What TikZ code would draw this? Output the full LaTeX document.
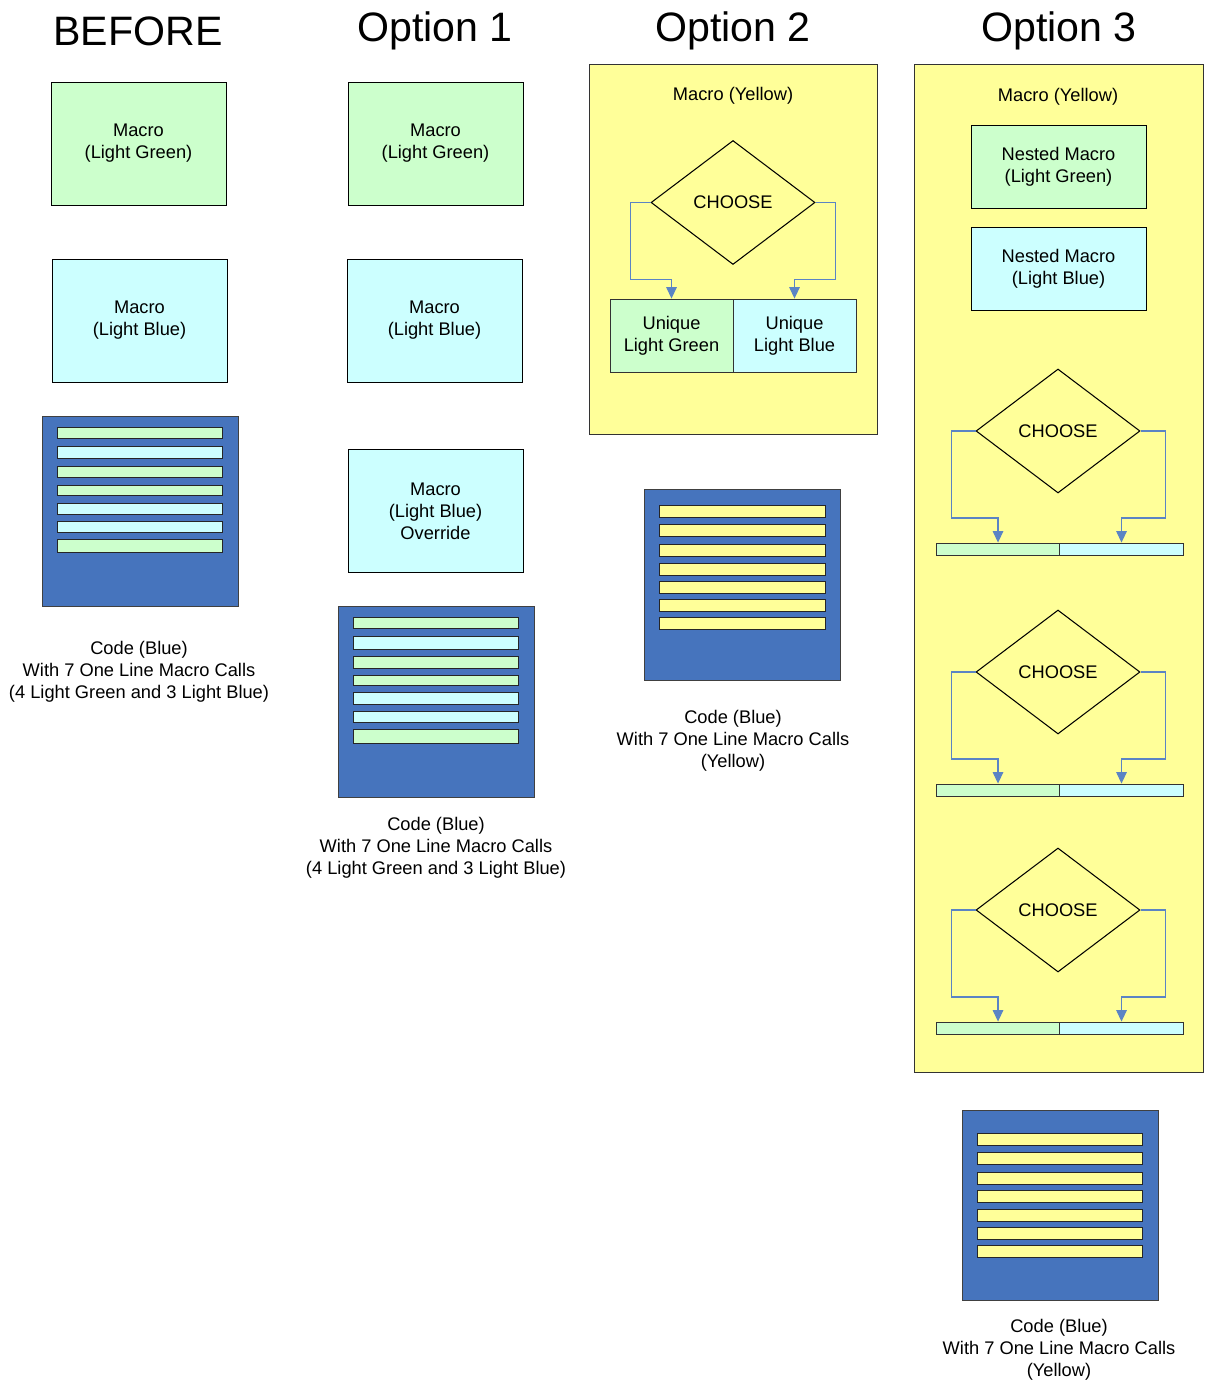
\documentclass[tikz,border=0pt]{standalone}
\usepackage{fontspec}
\setmainfont{Liberation Sans}
\usetikzlibrary{shapes.geometric,arrows.meta}
\definecolor{lgreen}{HTML}{CCFFCC}
\definecolor{lblue}{HTML}{CCFFFF}
\definecolor{myyellow}{HTML}{FFFF99}
\definecolor{codeblue}{HTML}{4674BD}
\definecolor{arrowblue}{HTML}{5B84C4}

\begin{document}
\begin{tikzpicture}[x=0.02cm,y=-0.02cm,
    txt/.style={font=\fontsize{10.4}{12.5}\selectfont, align=center},
    caption/.style={txt, yshift=-1.1pt},
    head/.style={font=\fontsize{23.4}{27}\selectfont, yshift=-1.7pt},
    macro/.style={txt, draw=black, line width=0.5pt, inner sep=0pt, minimum width=3.5cm, minimum height=2.46cm},
    nested/.style={macro, minimum height=1.66cm},
    unique/.style={txt, draw=black!80, line width=0.5pt, inner sep=0pt, minimum width=2.46cm, minimum height=1.46cm},
    bar/.style={draw=black!80, line width=0.5pt, inner sep=0pt, minimum width=2.48cm, minimum height=0.24cm},
    choose/.style={txt, diamond, draw=black, fill=myyellow, line width=0.6pt, inner sep=0pt, aspect=1.32, minimum width=3.28cm, minimum height=2.48cm},
    panel/.style={draw=black!80, fill=myyellow, line width=0.5pt},
    code/.style={draw=black!75, fill=codeblue, line width=0.5pt},
    stripe/.style={draw=black!85, line width=0.5pt},
    arr/.style={draw=arrowblue, line width=0.6pt, -{Triangle[width=6pt,length=6.5pt]}}]

    \useasboundingbox (0,0) rectangle (1208,1381);

    % Headings
    \node[head] (h0) at (138,28) {BEFORE};
    \node[head] (h1) at (435,28) {Option 1};
    \node[head] (h2) at (733,28) {Option 2};
    \node[head] (h3) at (1059,28) {Option 3};

    % Before
    \node[macro, fill=lgreen] (bgreen) at (138.5,143.5) {Macro\\(Light Green)};
    \node[macro, fill=lblue] (bblue) at (139.5,320.5) {Macro\\(Light Blue)};
    \draw[code] (42,416) rectangle (238,606);
    \foreach \t/\h/\c in {11/11/lgreen, 30/12/lblue, 50/11/lgreen, 69/10/lgreen, 87/11/lblue, 105/11/lblue, 123/13/lgreen}
        \draw[stripe, fill=\c] (57,416+\t) rectangle ++(165,\h);
    \node[caption] (bcode) at (139,670) {Code (Blue)\\With 7 One Line Macro Calls\\(4 Light Green and 3 Light Blue)};

    % Option 1
    \node[macro, fill=lgreen] (agreen) at (435.5,143.5) {Macro\\(Light Green)};
    \node[macro, fill=lblue] (ablue) at (434.5,320.5) {Macro\\(Light Blue)};
    \node[macro, fill=lblue] (aover) at (435.5,511) {Macro\\(Light Blue)\\Override};
    \draw[code] (338,606) rectangle (534,797);
    \foreach \t/\h/\c in {11/11/lgreen, 30/13/lblue, 50/12/lgreen, 69/10/lgreen, 86/12/lblue, 105/11/lblue, 123/14/lgreen}
        \draw[stripe, fill=\c] (353,606+\t) rectangle ++(165,\h);
    \node[caption] (acode) at (436,846) {Code (Blue)\\With 7 One Line Macro Calls\\(4 Light Green and 3 Light Blue)};

    % Option 2
    \draw[panel] (589,64) rectangle (877,434);
    \node[caption] (ytitle) at (733,94) {Macro (Yellow)};
    \node[choose] (ch) at (733,202.5) {CHOOSE};
    \node[unique, fill=lgreen] (ugreen) at (671.5,335.5) {Unique\\Light Green};
    \node[unique, fill=lblue] (ublue) at (794.5,335.5) {Unique\\Light Blue};
    \draw[arr] (ch.west) -- ++(-20,0) -- ++(0,77) -| (ugreen.north);
    \draw[arr] (ch.east) -- ++(20,0) -- ++(0,77) -| (ublue.north);
    \draw[code] (644,489) rectangle (840,680);
    \foreach \t in {16,35,55,74,92,110,128}
        \draw[stripe, fill=myyellow] (659,489+\t) rectangle ++(166,12);
    \node[caption] (ycode) at (733,739) {Code (Blue)\\With 7 One Line Macro Calls\\(Yellow)};

    % Option 3
    \draw[panel] (914,64) rectangle (1203,1072);
    \node[caption] (ztitle) at (1058,95) {Macro (Yellow)};
    \node[nested, fill=lgreen] (ngreen) at (1058.5,166.5) {Nested Macro\\(Light Green)};
    \node[nested, fill=lblue] (nblue) at (1058.5,269) {Nested Macro\\(Light Blue)};
    \foreach \y/\n in {431/a, 672/b, 910/c} {
        \node[choose] (ch\n) at (1058,\y) {CHOOSE};
        \node[bar, fill=lgreen] (bg\n) at (998,\y+118) {};
        \node[bar, fill=lblue] (bb\n) at (1121.5,\y+118) {};
        \draw[arr] (ch\n.west) -- ++(-24,0) -- ++(0,87) -| (bg\n.north);
        \draw[arr] (ch\n.east) -- ++(25,0) -- ++(0,87) -| (bb\n.north);
    }
    \draw[code] (962,1110) rectangle (1158,1300);
    \foreach \t in {23,42,62,80,99,117,135}
        \draw[stripe, fill=myyellow] (977,1110+\t) rectangle ++(165,12);
    \node[caption] (zcode) at (1059,1348) {Code (Blue)\\With 7 One Line Macro Calls\\(Yellow)};

\end{tikzpicture}
\end{document}
